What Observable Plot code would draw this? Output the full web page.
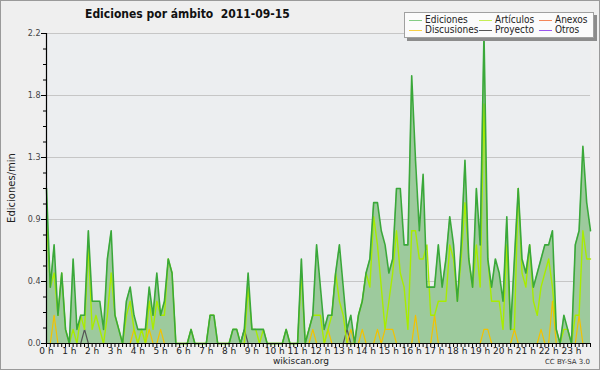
<!DOCTYPE html>
<html><head><meta charset="utf-8">
<script src="https://cdn.jsdelivr.net/npm/d3@7"></script>
<script src="https://cdn.jsdelivr.net/npm/@observablehq/plot@0.6"></script>
<style>
html,body{margin:0;padding:0;background:#fff;}
#wrap{position:relative;width:600px;height:370px;overflow:hidden;font-family:"DejaVu Sans",sans-serif;}
#wrap svg{position:absolute;left:0;top:0;}
.t{position:absolute;white-space:nowrap;color:#111;line-height:1;}
#border{position:absolute;left:0;top:0;width:598px;height:368px;border:1px solid #9a9a9a;pointer-events:none;}
#legend{position:absolute;left:404px;top:12px;width:188px;height:24px;background:#fbfbfb;border:1px solid #a0a0a0;box-shadow:3px 3px 0 #8c8c8c;}
.li{position:absolute;font-size:10px;line-height:1;color:#222;white-space:nowrap;font-family:'DejaVu Sans Condensed','DejaVu Sans',sans-serif;font-stretch:condensed;}
.sw{position:absolute;width:13px;height:0;border-top:1px solid;}
</style></head><body><div id="wrap"></div>
<script>
// Values in edits per minute, one value every 10 minutes (00:00 ... 23:50)
const ediciones = [1.1,0.4,0.7,0.2,0.5,0.1,0,0.6,0.1,0.2,0.2,0.8,0.3,0.3,0.3,0.1,0.6,0.8,0.2,0.1,0,0.3,0.4,0.2,0.1,0.1,0.1,0.4,0.2,0.5,0.2,0.3,0.6,0.5,0,0,0,0,0.1,0,0,0,0,0.2,0.2,0,0,0,
0,0.1,0.1,0,0.1,0.5,0.1,0.1,0.1,0.1,0,0,0,0,0,0.1,0,0,0,0.6,0,0.1,0.2,0.7,0.4,0.1,0.2,0.2,0.5,0.7,0.4,0.1,0.2,0,0.2,0.3,0.5,0.6,1.0,1.0,0.8,0.7,0.5,0.6,1.1,1.1,0.7,0.7,
1.9,1.3,0.8,1.2,0.4,0.4,0.4,0.7,0.4,0.6,0.9,0.7,0.3,0.7,1.3,0.6,0.4,1.1,0.7,2.2,0.6,0.4,0.6,0.5,0.3,0.9,0.1,0.6,1.1,0.6,0.5,0.7,0.4,0.5,0.6,0.7,0.7,0.8,0.1,0,0.2,0.1,0,0.7,0.8,1.4,1.0,0.8];
const articulos = [0.9,0.4,0.5,0.2,0.5,0.1,0,0.1,0,0.2,0.1,0.7,0.1,0.2,0.1,0,0.2,0.5,0.2,0.1,0,0.2,0.3,0.1,0,0.1,0,0.3,0.1,0.3,0.2,0.2,0.6,0.5,0,0,0,0,0.1,0,0,0,0,0.2,0.2,0,0,0,
0,0.1,0.1,0,0,0.4,0.1,0.1,0,0.1,0,0,0,0,0,0.1,0,0,0,0.5,0,0.1,0.2,0.2,0.2,0,0.1,0.2,0.5,0.3,0.2,0,0,0,0.2,0.3,0.5,0.4,0.9,0.7,0.4,0.1,0.3,0.5,0.8,0.5,0.4,0.1,
0.8,0.8,0.6,0.6,0.7,0.2,0.2,0.3,0.3,0.3,0.7,0.6,0.3,0.6,1.0,0.6,0.4,0.7,0.4,1.7,0.6,0.3,0.3,0.3,0.1,0.7,0.1,0.1,1.1,0.5,0.4,0.7,0.3,0.2,0.4,0.5,0.6,0.4,0.1,0,0.1,0.1,0,0.2,0.2,0.8,0.6,0.6];
const discusiones = [0,0,0.2,0,0,0,0,0,0,0,0,0,0,0,0,0,0,0,0,0,0,0,0,0.1,0,0,0,0.1,0,0,0.1,0,0,0,0,0,0,0,0,0,0,0,0,0,0,0,0,0,
0,0,0,0,0,0,0,0,0,0,0,0,0,0,0,0,0,0,0,0,0,0,0.1,0,0,0,0.1,0,0,0,0,0,0.1,0,0,0.1,0,0,0,0.1,0,0.1,0.1,0.1,0,0,0,0,
0,0.2,0,0,0,0,0.2,0,0,0,0,0,0,0,0,0,0,0,0,0.1,0.1,0,0,0,0,0,0,0.1,0,0,0,0,0,0,0.1,0,0,0.3,0,0,0,0,0,0,0.2,0,0,0];
const proyecto = d3.range(144).map(i => [10,52,79].includes(i) ? 0.1 : 0);
const anexos = d3.range(144).map(() => 0);
const otros = d3.range(144).map(() => 0);
const hourLabels = d3.range(24).map(h => h + " h");
const yMajor = [0, 0.44, 0.88, 1.32, 1.76, 2.2];
const yMinor = d3.range(0, 21).map(k => k * 0.11);

const colors = {ed:"#3aa83a", art:"#a8ec00", disc:"#f2c200", proy:"#555555", anx:"#ff7a45", otr:"#8a3cf0"};
const legendColors = {ed:"#84cc84", art:"#c6ee55", disc:"#f7cf45", proy:"#555555", anx:"#f4875a", otr:"#9a55ee"};
const data = ediciones.map((v, i) => ({i, ed: v, art: articulos[i], disc: discusiones[i], proy: proyecto[i], anx: anexos[i], otr: otros[i]}));

const chart = Plot.plot({
  width: 600, height: 370,
  marginLeft: 46, marginRight: 10, marginTop: 33, marginBottom: 27,
  style: {background: "#efefef", fontFamily: "DejaVu Sans", fontSize: "8px", color: "#333", overflow: "visible"},
  x: {domain: [0, 143], axis: null, label: null},
  y: {domain: [0, 2.2], axis: null, label: null},
  marks: [
    Plot.frame({fill: "#eceef0", stroke: null}),
    Plot.gridY(yMajor.slice(1), {stroke: "#c6c6c6", strokeOpacity: 1}),
    Plot.areaY(data, {x: "i", y: "ed", fill: "#9dca9d", curve: "linear"}),
    Plot.lineY(data, {x: "i", y: "otr", stroke: colors.otr, strokeWidth: 1.2}),
    Plot.lineY(data, {x: "i", y: "anx", stroke: colors.anx, strokeWidth: 1.2}),
    Plot.lineY(data, {x: "i", y: "proy", stroke: colors.proy, strokeWidth: 1.2}),
    Plot.lineY(data, {x: "i", y: "disc", stroke: colors.disc, strokeWidth: 1.2}),
    Plot.lineY(data, {x: "i", y: "art", stroke: colors.art, strokeWidth: 1.4}),
    Plot.lineY(data, {x: "i", y: "ed", stroke: colors.ed, strokeWidth: 1.6}),
    Plot.axisY(yMinor, {tickSize: 3, tickFormat: () => "", stroke: "#000", label: null}),
    Plot.axisY(yMajor, {tickSize: 5, tickPadding: 1, tickFormat: d3.format(".1f"), stroke: "#000", fill: "#444", fontSize: 8, label: null}),
    Plot.axisX(d3.range(144), {tickSize: 4, tickPadding: 0, stroke: "#000", fill: "#222", fontSize: 9, label: null,
      tickFormat: i => i % 6 === 0 ? hourLabels[i / 6] : ""}),
    Plot.ruleX([0], {stroke: "#000", strokeWidth: 1.2}),
    Plot.ruleY([0], {stroke: "#000", strokeWidth: 1.2})
  ]
});
const wrap = document.getElementById("wrap");
wrap.appendChild(chart);

function addText(txt, css) {
  const d = document.createElement("div");
  d.className = "t"; d.textContent = txt; d.style.cssText += css;
  wrap.appendChild(d); return d;
}
addText("Ediciones por ámbito  2011-09-15", "left:85px;top:8px;font-size:12px;font-weight:bold;font-family:'DejaVu Sans Condensed','DejaVu Sans',sans-serif;font-stretch:condensed;color:#111;white-space:pre;");
addText("Ediciones/min", "left:12px;top:188px;font-size:10px;transform:translate(-50%,-50%) rotate(-90deg);color:#222;");
addText("wikiscan.org", "left:301px;top:357px;font-size:9px;transform:translateX(-50%);color:#222;");
addText("CC BY-SA 3.0", "right:10px;top:359px;font-size:7px;color:#333;");

const legend = document.createElement("div");
legend.id = "legend"; wrap.appendChild(legend);
const items = [
  ["Ediciones", legendColors.ed, 0, 0], ["Artículos", legendColors.art, 1, 0], ["Anexos", legendColors.anx, 2, 0],
  ["Discusiones", legendColors.disc, 0, 1], ["Proyecto", legendColors.proy, 1, 1], ["Otros", legendColors.otr, 2, 1]
];
const colX = [4, 74, 134];
items.forEach(([name, col, c, r]) => {
  const sw = document.createElement("div");
  sw.className = "sw"; sw.style.left = colX[c] + "px"; sw.style.top = (7 + r * 10) + "px"; sw.style.borderTopColor = col;
  legend.appendChild(sw);
  const lb = document.createElement("div");
  lb.className = "li"; lb.textContent = name; lb.style.left = (colX[c] + 16) + "px"; lb.style.top = (2 + r * 10) + "px";
  legend.appendChild(lb);
});
const border = document.createElement("div"); border.id = "border"; wrap.appendChild(border);
</script></body></html>
